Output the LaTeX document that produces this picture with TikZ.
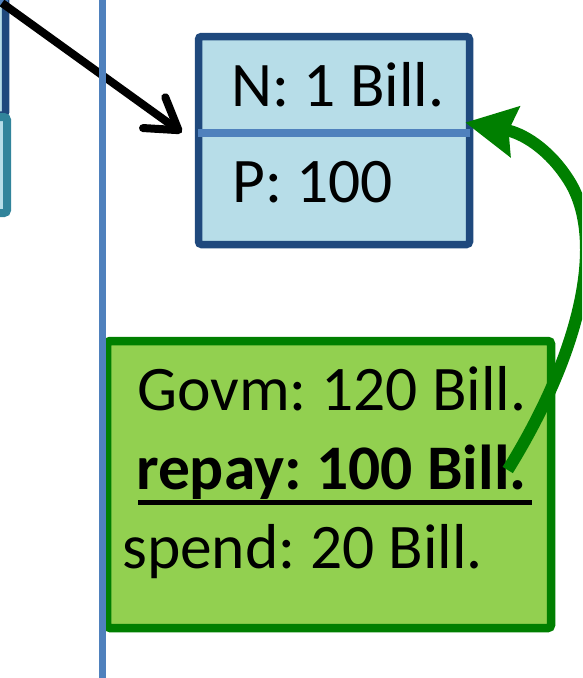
\documentclass[tikz,border=0pt]{standalone}
\usepackage{fontspec}
\setmainfont{Carlito}
\usetikzlibrary{arrows.meta}
\definecolor{navy}{HTML}{1F497D}
\definecolor{paleblue}{HTML}{B7DDE8}
\definecolor{midblue}{HTML}{4F81BD}
\definecolor{teal}{HTML}{31849B}
\definecolor{leaf}{HTML}{92D050}
\definecolor{forest}{HTML}{007F00}
\tikzset{
  bigtext/.style={font=\fontsize{63.5}{75}\selectfont\frenchspacing, inner sep=0pt, anchor=base west},
  acctbox/.style={draw=navy, fill=paleblue, line width=7.5pt, rounded corners=3pt},
  govbox/.style={draw=forest, fill=leaf, line width=8.5pt, rounded corners=3pt},
  divider/.style={draw=midblue, line width=7.5pt},
  timeline/.style={draw=midblue, line width=7.5pt},
  blackarrow/.style={draw=black, line width=8pt, -{Straight Barb[length=30pt, width=38pt, round]}},
  greenarrow/.style={draw=forest, line width=12pt, -{Stealth[length=50pt, width=50pt, inset=6pt]}}
}
\begin{document}
\begin{tikzpicture}[x=1pt, y=-1pt]
\useasboundingbox (0,0) rectangle (582,678);
\begin{scope}
\clip (0,0) rectangle (582,678);
% boxes cut by the left edge
\path[acctbox] (-300,-100) rectangle (5.5,115);
\path[divider] (-300,3) -- (8,3);
\path[draw=teal, fill=paleblue, line width=8pt, rounded corners=3pt] (-300,117) rectangle (7,213);

% account box with two fields
\node[acctbox, minimum width=271pt, minimum height=208pt, inner sep=0pt] (acct) at (334,140.5) {};
\path[divider] (198,133) -- (470,133);
\node[bigtext] (ntext) at (231,106) {N: 1 Bill.};
\node[bigtext] (ptext) at (232,202) {P: 100};

% government box
\node[govbox, minimum width=444pt, minimum height=287pt, inner sep=0pt] (gov) at (329,484.5) {};
\node[bigtext] (govm) at (137,410) {Govm: 120 Bill.};
\node[bigtext, font=\fontsize{63.5}{75}\selectfont\bfseries\frenchspacing] (repay) at (136,489) {repay: 100 Bill.};
\draw[line width=5pt] ([shift={(2pt,-13pt)}]repay.base west) -- ([shift={(5pt,-13pt)}]repay.base east);
\node[bigtext] (spend) at (122,568) {spend: 20 Bill.};

% transfer into the account
\coordinate (bstart) at (2,3);
\draw[blackarrow] (bstart) -- ([shift={(-13,-8)}]acct.west);

% time line
\coordinate (ttop) at (102.5,0);
\coordinate (tbot) at (102.5,678);
\path[timeline] (ttop) -- (tbot);

% repayment back to the account
\draw[greenarrow] ([shift={(-19,-19)}]repay.base east)
  .. controls (585,345) and (605,235) .. (568,179)
  .. controls (548,148) and (522,133) .. ([shift={(-8,-18)}]acct.east);
\end{scope}
\end{tikzpicture}
\end{document}
